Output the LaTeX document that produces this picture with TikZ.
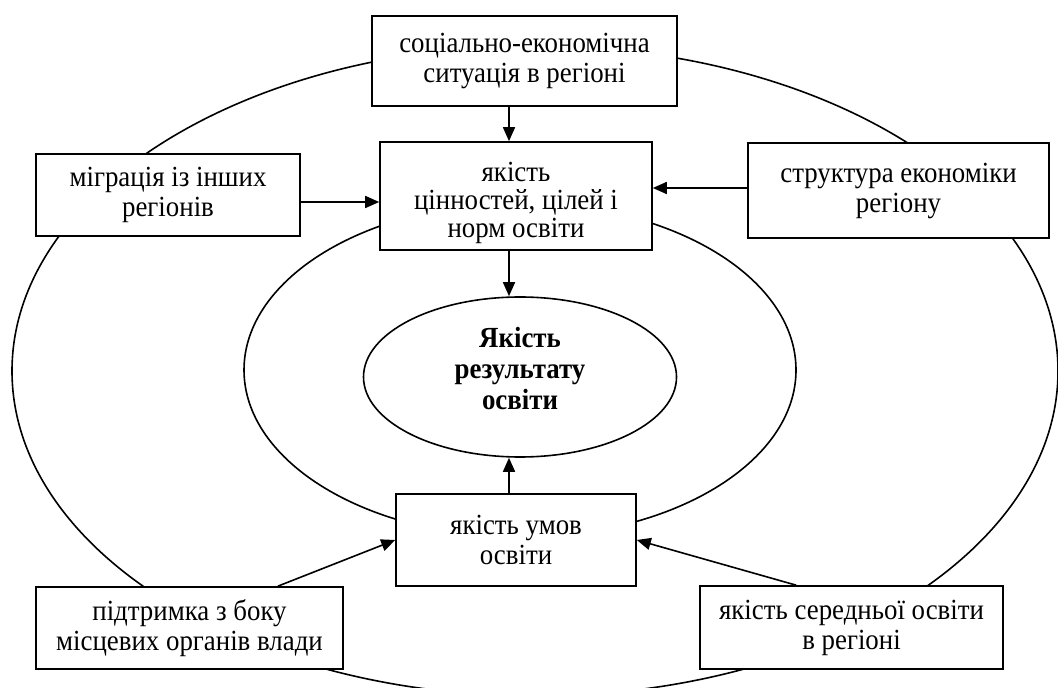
\documentclass[tikz,border=0pt]{standalone}
\usepackage{fontspec}
\setmainfont[FakeStretch=0.92]{Liberation Serif}
\usetikzlibrary{shapes.geometric,arrows.meta}

\begin{document}
\begin{tikzpicture} [x=0.5pt, y=-0.5pt, line width=0.8pt,
  box/.style={draw, fill=white, rectangle, align=center, inner sep=0pt,
    font=\fontsize{14.6}{15}\selectfont},
  arr/.style={-{Triangle[length=7pt, width=6pt]}}]
\useasboundingbox (0,0) rectangle (1058,688);
\clip (0,0) rectangle (1058,688);
% ellipses behind the boxes
\draw (535,371) ellipse [x radius=523, y radius=325];
\draw (520,370) ellipse [x radius=276, y radius=167];
\node [draw, ellipse, inner sep=0pt, minimum width=156.5pt, minimum height=80pt,
  align=center, font=\fontsize{14.6}{15.5}\selectfont\bfseries] (res) at (520,377)
  {Якість\\результату\\освіти\rule[-9pt]{0pt}{0pt}};
% boxes
\node [box, minimum width=152.5pt, minimum height=45pt] (soc) at (524.5,61)
  {соціально-економічна\\ситуація в регіоні};
\node [box, minimum width=132pt, minimum height=41pt] (mig) at (168,195)
  {міграція із інших\\регіонів};
\node [box, minimum width=136pt, minimum height=54pt,
  font=\fontsize{14.6}{14}\selectfont] (val) at (516,196)
  {\rule{0pt}{17pt}якість\\цінностей, цілей і\\норм освіти};
\node [box, minimum width=150.5pt, minimum height=47.5pt] (str) at (898.5,190.5)
  {структура економіки\\регіону};
\node [box, minimum width=120pt, minimum height=46pt] (cond) at (516,540)
  {якість умов\\освіти};
\node [box, minimum width=153.5pt, minimum height=41pt] (sup) at (189.5,628)
  {підтримка з боку\\місцевих органів влади};
\node [box, minimum width=151.5pt, minimum height=41.5pt] (sec) at (851.5,627.5)
  {якість середньої освіти\\в регіоні};
% arrows
\coordinate (ax) at (509,0);
\draw[arr] (soc.south -| ax) -- (val.north -| ax);
\draw[arr] (val.south -| ax) -- (res.north -| ax);
\draw[arr] (cond.north -| ax) -- (res.south -| ax);
\draw[arr] ([yshift=-3.5pt]mig.east) -- ([yshift=-3.5pt]mig.east -| val.west);
\draw[arr] ([yshift=1.25pt]str.west) -- ([yshift=1.25pt]str.west -| val.east);
\draw[arr] ([xshift=-33pt]sup.north east) -- (cond.west);
\draw[arr] ([xshift=48.5pt]sec.north west) -- (cond.east);
\end{tikzpicture}
\end{document}
